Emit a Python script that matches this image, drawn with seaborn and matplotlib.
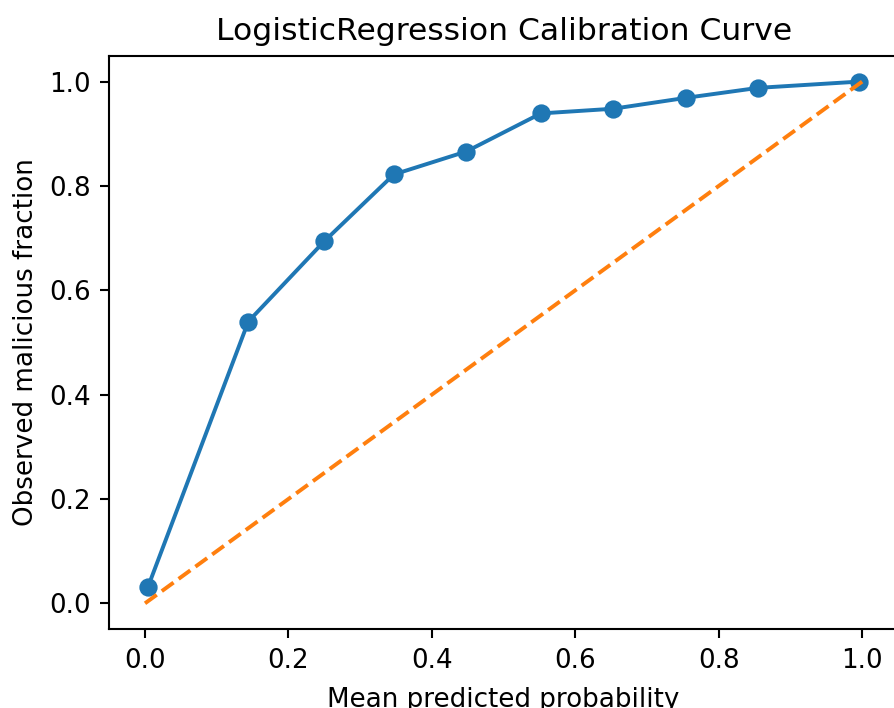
import matplotlib
matplotlib.use("Agg")
import matplotlib.pyplot as plt
import seaborn as sns
import pandas as pd

mean_pred = [0.004, 0.144, 0.250, 0.347, 0.448, 0.552, 0.653, 0.755, 0.855, 0.996]
frac_pos = [0.031, 0.540, 0.694, 0.822, 0.866, 0.939, 0.948, 0.969, 0.988, 1.0]
diag = [0.0, 1.0]

title = "LogisticRegression Calibration Curve"
xlabel = "Mean predicted probability"
ylabel = "Observed malicious fraction"

s = 1.045
plt.rcParams["font.family"] = ["DejaVu Sans"]
fig = plt.figure(figsize=(894 / 180, 708 / 180), dpi=180)
ax = fig.add_axes([0.1221, 0.1110, 0.8824, 0.8106])

df = pd.DataFrame({"x": mean_pred, "y": frac_pos})
sns.lineplot(data=df, x="x", y="y", ax=ax, color="C0", marker="o",
             markersize=6 * s, markeredgecolor="C0", markeredgewidth=1.0 * s,
             linewidth=1.5 * s, sort=False)
ddf = pd.DataFrame({"x": diag, "y": diag})
sns.lineplot(data=ddf, x="x", y="y", ax=ax, color="C1", linestyle="--",
             linewidth=1.5 * s)

ax.set_xlim(-0.05, 1.05)
ax.set_ylim(-0.05, 1.05)
ax.set_xticks([0.0, 0.2, 0.4, 0.6, 0.8, 1.0])
ax.set_yticks([0.0, 0.2, 0.4, 0.6, 0.8, 1.0])
ax.set_title(title, fontsize=12 * s, pad=6 * s)
ax.set_xlabel(xlabel, fontsize=10 * s, labelpad=4 * s + 1)
ax.set_ylabel(ylabel, fontsize=10 * s, labelpad=4 * s)
ax.tick_params(labelsize=10 * s, length=3.5 * s, width=0.8 * s, pad=3.5 * s)
for sp in ax.spines.values():
    sp.set_linewidth(0.8 * s)

fig.savefig("out.png", dpi=180)
